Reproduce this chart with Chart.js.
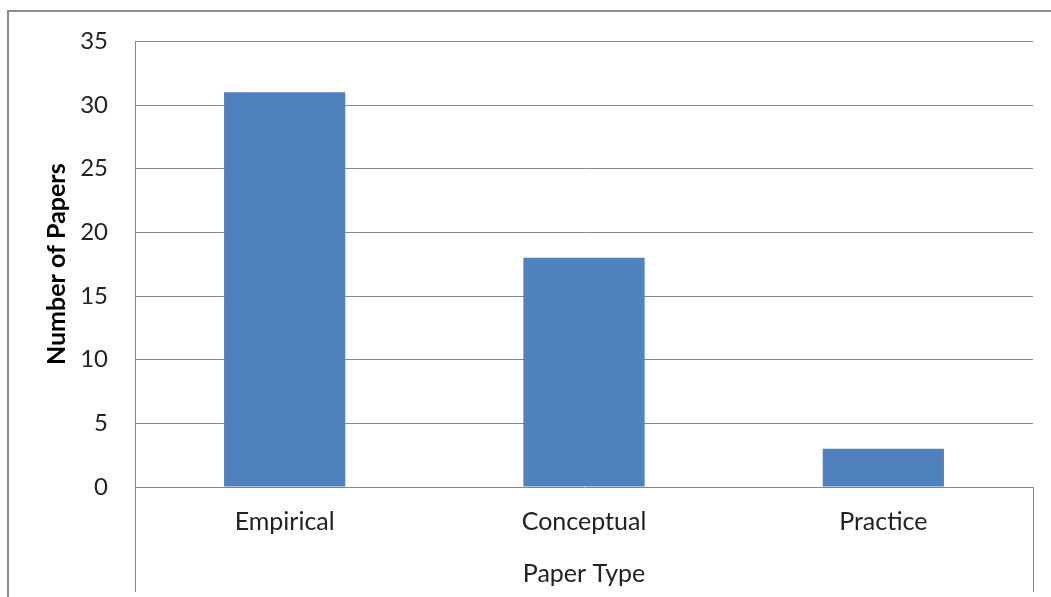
<!DOCTYPE html>
<html>
<head>
<meta charset="utf-8">
<script src="https://cdn.jsdelivr.net/npm/chart.js@4"></script>
<style>
  body { margin: 0; background: #fff; }
</style>
</head>
<body>
<canvas id="chart" width="1051" height="597"></canvas>
<script>
// data
const categories = ["Empirical", "Conceptual", "Practice"];
const paperCounts = [31, 18, 3];
const yMin = 0, yMax = 35, yStep = 5;

const gridColor = "#868686";

// frame lines: outer border plus the plot frame running down past the x axis
const framePlugin = {
  id: "frame",
  afterDraw(chart) {
    const ctx = chart.ctx;
    const a = chart.chartArea;
    ctx.save();
    ctx.strokeStyle = "#8c8c8c";
    ctx.lineWidth = 2;
    ctx.beginPath();
    ctx.moveTo(8, 597);
    ctx.lineTo(8, 11);
    ctx.lineTo(1051, 11);
    ctx.stroke();
    ctx.strokeStyle = gridColor;
    ctx.lineWidth = 1;
    ctx.beginPath();
    ctx.moveTo(Math.round(a.left) + 0.5, a.bottom);
    ctx.lineTo(Math.round(a.left) + 0.5, 592);
    ctx.moveTo(Math.round(a.right) + 0.5, a.bottom);
    ctx.lineTo(Math.round(a.right) + 0.5, 592);
    ctx.stroke();
    ctx.restore();
  }
};

new Chart(document.getElementById("chart"), {
  type: "bar",
  data: {
    labels: categories,
    datasets: [{
      label: "Number of Papers",
      data: paperCounts,
      backgroundColor: "#4f81bd",
      categoryPercentage: 1,
      barPercentage: 0.405
    }]
  },
  options: {
    responsive: false,
    animation: false,
    layout: { padding: { top: 41, right: 18, bottom: 0, left: 0 } },
    plugins: {
      legend: { display: false },
      tooltip: { enabled: false }
    },
    scales: {
      x: {
        grid: { display: false, drawTicks: false },
        border: { display: false },
        ticks: {
          color: "#222",
          padding: 20,
          font: { family: "Lato", size: 25 }
        },
        title: {
          display: true,
          text: "Paper Type",
          color: "#222",
          padding: { top: 0, bottom: 8 },
          font: { family: "Lato", size: 25 }
        },
        afterFit(s) { s.height = 110; }
      },
      y: {
        min: yMin,
        max: yMax,
        grid: { color: gridColor, drawTicks: false },
        border: { display: true, color: gridColor },
        ticks: {
          stepSize: yStep,
          color: "#222",
          padding: 27,
          font: { family: "Lato", size: 24 }
        },
        title: {
          display: true,
          text: "Number of Papers",
          color: "#000",
          padding: { top: 42, bottom: 0 },
          font: { family: "Lato", size: 25, weight: "bold" }
        },
        afterFit(s) { s.width = 135; }
      }
    }
  },
  plugins: [framePlugin]
});
</script>
</body>
</html>
